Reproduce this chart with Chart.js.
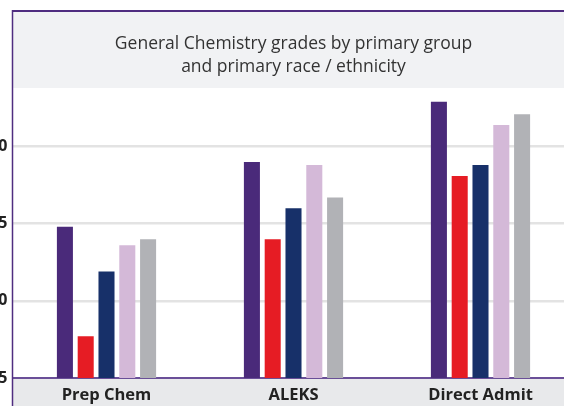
<!DOCTYPE html>
<html><head><meta charset="utf-8">
<script src="https://cdn.jsdelivr.net/npm/chart.js@4/dist/chart.umd.min.js"></script>
<style>
html,body{margin:0;padding:0;background:#fff;overflow:hidden;}
#wrap{position:relative;width:564px;height:406px;overflow:hidden;}
#c{position:absolute;left:-40px;top:0;}
</style></head><body>
<div id="wrap"><canvas id="c" width="614" height="406" style="width:614px;height:406px"></canvas></div>
<script>
const categories = ['Prep Chem', 'ALEKS', 'Direct Admit'];
const titleLines = ['General Chemistry grades by primary group', 'and primary race / ethnicity'];
const series1 = [2.48, 2.90, 3.29];
const series2 = [1.77, 2.40, 2.81];
const series3 = [2.19, 2.60, 2.88];
const series4 = [2.36, 2.88, 3.14];
const series5 = [2.40, 2.67, 3.21];
const yTicks = [1.5, 2.0, 2.5, 3.0];
const yMin = 1.5, yMax = 3.38;

const colors = ['#4a2a7a', '#e61c24', '#173069', '#d4b9d8', '#b1b2b6'];
const allSeries = [series1, series2, series3, series4, series5];

const framePlugin = {
  id: 'frame',
  afterLayout(chart) {
    const a = chart.chartArea, t = chart.titleBlock;
    t.left = a.left; t.right = a.right; t.width = a.right - a.left;
  },
  beforeDraw(chart) {
    const {ctx, chartArea: a, titleBlock: t} = chart;
    ctx.save();
    ctx.fillStyle = '#f1f2f4';
    ctx.fillRect(a.left, t.top, a.right - a.left, t.bottom - t.top);
    ctx.fillStyle = '#e8e9eb';
    ctx.fillRect(a.left, a.bottom, a.right - a.left, chart.height - a.bottom);
    ctx.restore();
  },
  afterDraw(chart) {
    const {ctx, chartArea: a} = chart;
    ctx.save();
    ctx.strokeStyle = '#4f2d80';
    ctx.lineWidth = 2;
    ctx.beginPath(); ctx.moveTo(a.left - 1, 11); ctx.lineTo(a.right, 11); ctx.stroke();
    ctx.lineWidth = 1.5;
    ctx.beginPath(); ctx.moveTo(a.left - 0.5, 10); ctx.lineTo(a.left - 0.5, chart.height); ctx.stroke();
    ctx.restore();
  }
};

new Chart(document.getElementById('c'), {
  type: 'bar',
  data: {
    labels: categories,
    datasets: allSeries.map((d, i) => ({
      label: 'Series ' + (i + 1),
      data: d,
      backgroundColor: colors[i],
      borderWidth: 0,
      categoryPercentage: 0.556,
      barPercentage: 0.771
    }))
  },
  options: {
    responsive: false,
    animation: false,
    devicePixelRatio: 1,
    layout: { padding: { top: 12, left: 0, right: 0, bottom: 0 } },
    plugins: {
      legend: { display: false },
      tooltip: { enabled: false },
      title: {
        display: true,
        text: titleLines,
        color: '#333333',
        font: { family: '"Open Sans", sans-serif', size: 17.5, weight: 'normal', lineHeight: 1.314 },
        padding: { top: 21, bottom: 9 }
      }
    },
    scales: {
      x: {
        grid: { display: false, drawTicks: false },
        border: { display: true, color: '#6a4f98', width: 2 },
        ticks: { color: '#222222', font: { family: '"Open Sans", sans-serif', size: 16.5, weight: 'bold' }, padding: 7 },
        afterFit(s) { s.height = 28; }
      },
      y: {
        min: yMin, max: yMax,
        afterBuildTicks(s) { s.ticks = yTicks.map(v => ({ value: v })); },
        grid: {
          drawTicks: false,
          lineWidth: 2.5,
          color: c => (c.tick && c.tick.value === 1.5) ? 'rgba(0,0,0,0)' : '#e3e3e3'
        },
        border: { display: false },
        ticks: {
          color: '#222222', padding: 5.5,
          font: { family: '"Open Sans", sans-serif', size: 16, weight: 'bold' },
          callback: v => Number(v).toFixed(1)
        },
        afterFit(s) { s.width = 53; }
      }
    }
  },
  plugins: [framePlugin]
});
</script>
</body></html>
